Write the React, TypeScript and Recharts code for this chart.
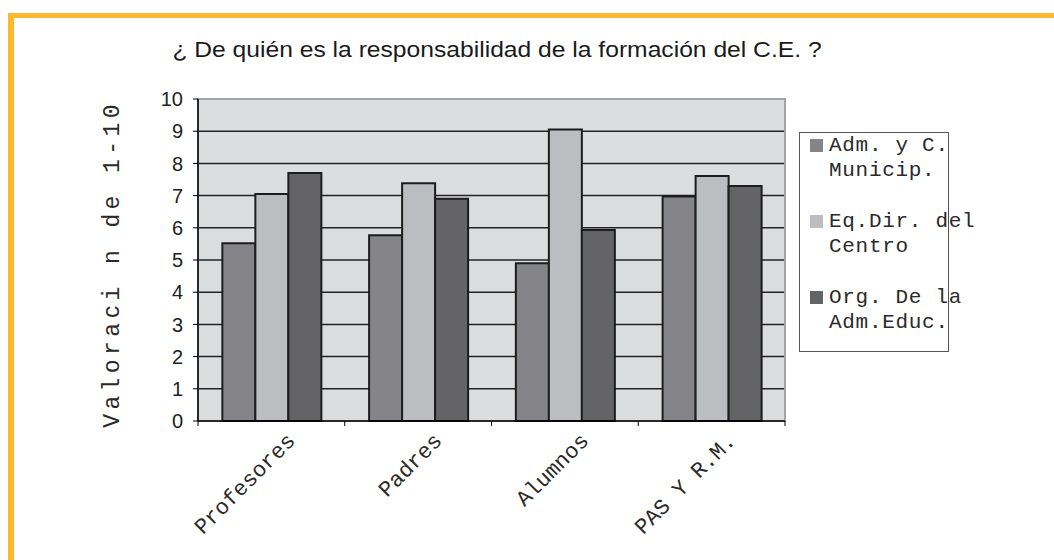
import React from 'react';
import { BarChart, Bar, XAxis, YAxis, CartesianGrid, ReferenceArea } from 'recharts';

const categories = ['Profesores', 'Padres', 'Alumnos', 'PAS Y R.M.'];
const admMunicip = [5.52, 5.77, 4.9, 6.97];
const eqDirCentro = [7.05, 7.38, 9.05, 7.61];
const orgAdmEduc = [7.7, 6.9, 5.93, 7.3];
const seriesNames = ['Adm. y C. Municip.', 'Eq.Dir. del Centro', 'Org. De la Adm.Educ.'];
const legendLines = [
  ['Adm. y C.', 'Municip.'],
  ['Eq.Dir. del', 'Centro'],
  ['Org. De la', 'Adm.Educ.'],
];
const seriesColors = ['#858589', '#bcbdc1', '#646466'];
const yTicks = [0, 1, 2, 3, 4, 5, 6, 7, 8, 9, 10];
const titleText = '¿ De quién es la responsabilidad de la formación del C.E. ?';
const yLabelText = 'Valoraci n de 1-10';

const data = categories.map((c, i) => ({
  name: c,
  s0: admMunicip[i],
  s1: eqDirCentro[i],
  s2: orgAdmEduc[i],
}));

const W = 1054;
const H = 560;
const margin = { top: 99, right: 269, left: 138, bottom: 79 };
const plotW = W - margin.left - 60 - margin.right;
const halfBand = plotW / categories.length / 2;

const mono = '"Liberation Mono", "Courier New", monospace';
const sans = '"Liberation Sans", Arial, sans-serif';

const XTick = (props: any) => {
  const { x, y, payload, index } = props;
  const isLast = index === categories.length - 1;
  const ax = x + 25;
  const ay = y + 21;
  return (
    <g>
      <line x1={x - halfBand} y1={y} x2={x - halfBand} y2={y + 5} stroke="#000" strokeWidth={1} />
      {isLast && <line x1={x + halfBand} y1={y} x2={x + halfBand} y2={y + 5} stroke="#000" strokeWidth={1} />}
      <text
        x={ax}
        y={ay}
        transform={`rotate(-45 ${ax} ${ay})`}
        textAnchor="end"
        fontFamily={mono}
        fontSize={22}
        fill="#2a2a2a"
      >
        {payload.value}
      </text>
    </g>
  );
};

const YLabel = (props: any) => {
  const { viewBox } = props;
  const cx = viewBox.x - 25;
  const cy = viewBox.y + viewBox.height / 2 + 4;
  return (
    <text
      x={cx}
      y={cy}
      transform={`rotate(-90 ${cx} ${cy})`}
      textAnchor="middle"
      dominantBaseline="central"
      fontFamily={mono}
      fontSize={23}
      letterSpacing={4.4}
      fill="#2a2a2a"
    >
      {yLabelText}
    </text>
  );
};

export default function App() {
  return (
    <div style={{ position: 'absolute', left: 0, top: 0, width: W, height: H, background: '#fff', overflow: 'hidden' }}>
      <div style={{ position: 'absolute', left: 8, top: 13, width: 6, height: H - 13, background: '#fbb92f' }} />
      <div style={{ position: 'absolute', left: 8, top: 13, width: W - 8, height: 5, background: '#fbb92f' }} />
      <div
        style={{
          position: 'absolute',
          left: 172,
          top: 37,
          width: 650,
          textAlign: 'center',
          fontFamily: sans,
          fontSize: 22,
          color: '#1a1a1a',
          whiteSpace: 'nowrap',
          transform: 'scaleX(1.12)',
          transformOrigin: 'center',
        }}
      >
        {titleText}
      </div>
      <div style={{ position: 'absolute', left: 0, top: 0 }}>
        <BarChart width={W} height={H} data={data} margin={margin} barCategoryGap="16.6%" barGap={0}>
          <CartesianGrid vertical={false} stroke="#222" strokeWidth={1.5} fill="#dcdddf" />
          <ReferenceArea y1={0} y2={10} fill="none" stroke="#a3a3a3" strokeWidth={2} ifOverflow="visible" />
          <XAxis
            dataKey="name"
            axisLine={{ stroke: '#000', strokeWidth: 1.5 }}
            tickLine={false}
            tickSize={0}
            tickMargin={0}
            tick={<XTick />}
            interval={0}
            height={60}
          />
          <YAxis
            domain={[0, 10]}
            ticks={yTicks}
            interval={0}
            width={60}
            axisLine={{ stroke: '#000', strokeWidth: 1.5 }}
            tickLine={{ stroke: '#000' }}
            tickSize={5}
            tickMargin={10}
            tick={{ fill: '#222', fontFamily: sans, fontSize: 20 }}
            label={<YLabel />}
          />
          {['s0', 's1', 's2'].map((k, i) => (
            <Bar
              key={k}
              dataKey={k}
              name={seriesNames[i]}
              fill={seriesColors[i]}
              stroke="#1d1d1d"
              strokeWidth={2}
              isAnimationActive={false}
            />
          ))}
        </BarChart>
      </div>
      <div
        style={{
          position: 'absolute',
          left: 799,
          top: 132,
          width: 150,
          height: 220,
          border: '1px solid #555',
          boxSizing: 'border-box',
          overflow: 'visible',
        }}
      >
        {legendLines.map((lines, i) => (
          <div key={i} style={{ position: 'relative', height: 50, marginBottom: 26, whiteSpace: 'nowrap' }}>
            <div
              style={{
                position: 'absolute',
                left: 10,
                top: 6,
                width: 13,
                height: 13,
                background: seriesColors[i],
              }}
            />
            <div
              style={{
                position: 'absolute',
                left: 29,
                top: 0,
                fontFamily: mono,
                fontSize: 21,
                lineHeight: '25px',
                letterSpacing: 0.7,
                color: '#2a2a2a',
              }}
            >
              {lines.map((l, j) => (
                <div key={j}>{l}</div>
              ))}
            </div>
          </div>
        ))}
      </div>
    </div>
  );
}
